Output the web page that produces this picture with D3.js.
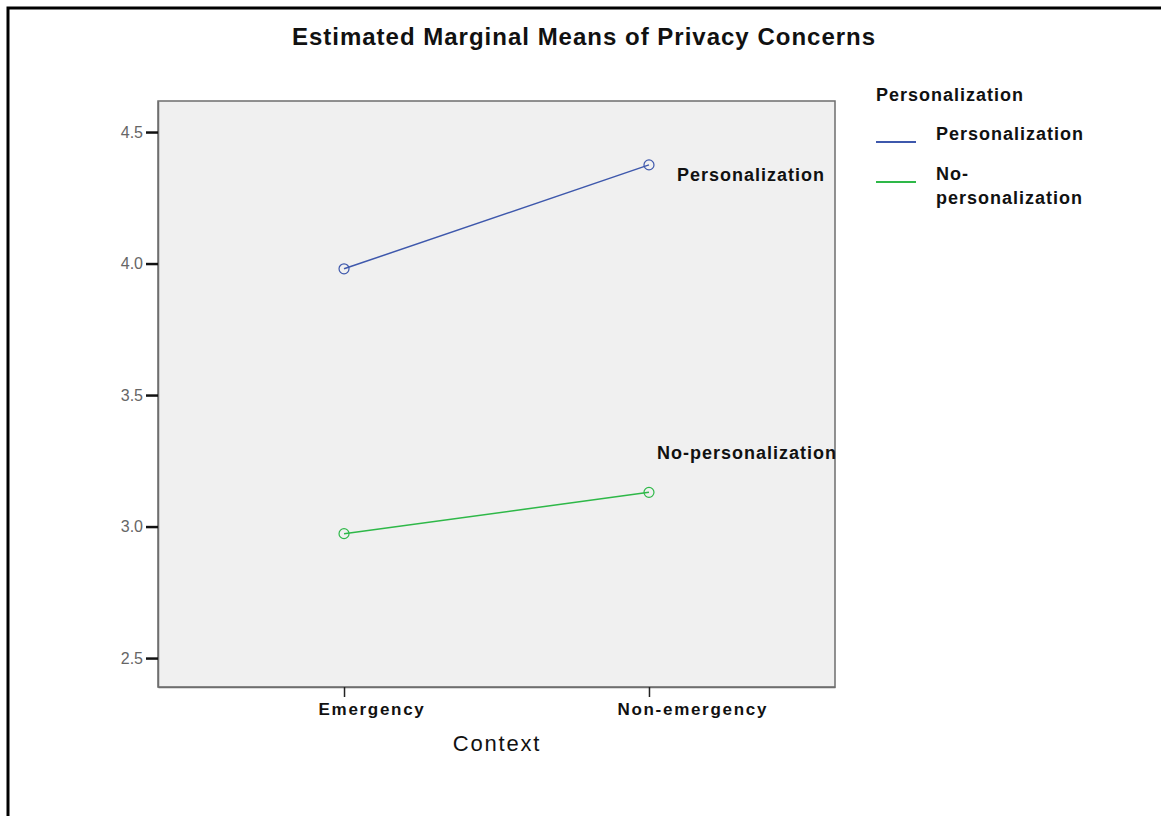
<!DOCTYPE html>
<html>
<head>
    <meta charset="UTF-8">
    <title></title>
    <style>
        body { margin: 0; background: #fff; }
        text { font-family: "Liberation Sans", Arial, sans-serif; }
    </style>
</head>
<body>
<script src="https://cdn.jsdelivr.net/npm/d3@7/dist/d3.min.js"></script>
<script>

    var width = 1161;
    var height = 816;

    // data
    var contexts = ["Emergency", "Non-emergency"];
    var groups = ["Personalization", "No-personalization"];
    var personalization = [3.98, 4.375];
    var noPersonalization = [2.973, 3.13];
    var yTicks = [2.5, 3.0, 3.5, 4.0, 4.5];
    var colors = ["#3e58ac", "#2eb848"];

    // plot area
    var padding = { top: 101, right: 326, bottom: 129, left: 158 };

    var svg = d3.select("body")
        .append("svg")
        .attr("width", width)
        .attr("height", height);

    // outer frame
    svg.append("rect")
        .attr("x", 8).attr("y", 8)
        .attr("width", width).attr("height", height)
        .attr("fill", "none")
        .attr("stroke", "#000")
        .attr("stroke-width", 3);

    var xScale = d3.scalePoint()
        .domain(contexts)
        .range([padding.left, width - padding.right])
        .padding(0.61);

    var yScale = d3.scaleLinear()
        .domain([2.39, 4.618])
        .range([height - padding.bottom, padding.top]);

    // plot background
    svg.append("rect")
        .attr("x", padding.left)
        .attr("y", padding.top)
        .attr("width", width - padding.right - padding.left)
        .attr("height", height - padding.bottom - padding.top)
        .attr("fill", "#f0f0f0")
        .attr("stroke", "#6e6e6e")
        .attr("stroke-width", 1.5);

    // title
    svg.append("text")
        .attr("x", 584)
        .attr("y", 45)
        .attr("text-anchor", "middle")
        .attr("font-size", 24)
        .attr("font-weight", "bold")
        .attr("letter-spacing", 1)
        .attr("fill", "#111")
        .text("Estimated Marginal Means of Privacy Concerns");

    // y axis
    var yAxis = d3.axisLeft(yScale)
        .tickValues(yTicks)
        .tickFormat(d3.format(".1f"))
        .tickSize(12)
        .tickSizeOuter(0)
        .tickPadding(3);

    var gy = svg.append("g")
        .attr("transform", "translate(" + padding.left + ",0)")
        .call(yAxis);
    gy.select(".domain").attr("stroke", "#6e6e6e").attr("stroke-width", 1.5);
    gy.selectAll(".tick line").attr("stroke", "#111").attr("stroke-width", 2.5);
    gy.selectAll(".tick text")
        .attr("font-size", 16)
        .attr("fill", "#666")
        .attr("font-family", "Liberation Sans, Arial, sans-serif");

    // x axis
    var xAxis = d3.axisBottom(xScale)
        .tickSize(10)
        .tickSizeOuter(0)
        .tickPadding(6);

    var gx = svg.append("g")
        .attr("transform", "translate(0," + (height - padding.bottom) + ")")
        .call(xAxis);
    gx.select(".domain").attr("stroke", "#6e6e6e").attr("stroke-width", 1.5);
    gx.selectAll(".tick line").attr("stroke", "#222").attr("stroke-width", 1.5);
    gx.selectAll(".tick text")
        .attr("font-size", 17)
        .attr("font-weight", "bold")
        .attr("letter-spacing", 1.7)
        .attr("fill", "#111")
        .attr("text-anchor", "start")
        .attr("x", (d, i) => i == 0 ? -26 : -32)
        .attr("font-family", "Liberation Sans, Arial, sans-serif");

    svg.append("text")
        .attr("x", 497)
        .attr("y", 751)
        .attr("text-anchor", "middle")
        .attr("font-size", 22)
        .attr("letter-spacing", 1.8)
        .attr("fill", "#111")
        .text("Context");

    // lines
    var series = [personalization, noPersonalization];
    var line = d3.line()
        .x((d, i) => xScale(contexts[i]))
        .y(d => yScale(d));

    var lines = svg.append("g")
        .selectAll("g")
        .data(series)
        .join("g")
        .attr("stroke", (d, i) => colors[i])
        .attr("fill", "none");

    lines.append("path")
        .attr("d", d => line(d))
        .attr("stroke-width", 1.5);

    lines.selectAll("circle")
        .data(d => d)
        .join("circle")
        .attr("cx", (d, i) => xScale(contexts[i]))
        .attr("cy", d => yScale(d))
        .attr("r", 5)
        .attr("stroke-width", 1.2);

    // line labels
    var labelStyle = function (t) {
        t.attr("font-size", 18)
            .attr("font-weight", "bold")
            .attr("letter-spacing", 1)
            .attr("fill", "#111");
    };

    svg.append("text")
        .attr("x", 677)
        .attr("y", 181)
        .call(labelStyle)
        .text(groups[0]);

    svg.append("text")
        .attr("x", 657)
        .attr("y", 459)
        .call(labelStyle)
        .text(groups[1]);

    // legend
    svg.append("text")
        .attr("x", 876)
        .attr("y", 101)
        .call(labelStyle)
        .text("Personalization");

    var legendY = [142, 182];
    var legend = svg.append("g")
        .selectAll("g")
        .data(groups)
        .join("g")
        .attr("transform", (d, i) => "translate(876," + legendY[i] + ")");

    legend.append("line")
        .attr("x1", 0).attr("x2", 40)
        .attr("stroke", (d, i) => colors[i])
        .attr("stroke-width", 2);

    legend.append("text")
        .call(labelStyle)
        .selectAll("tspan")
        .data(d => d == "No-personalization" ? ["No-", "personalization"] : [d])
        .join("tspan")
        .attr("x", 60)
        .attr("y", (d, i) => i == 0 ? -2 : 22)
        .text(d => d);

</script>
</body>
</html>
